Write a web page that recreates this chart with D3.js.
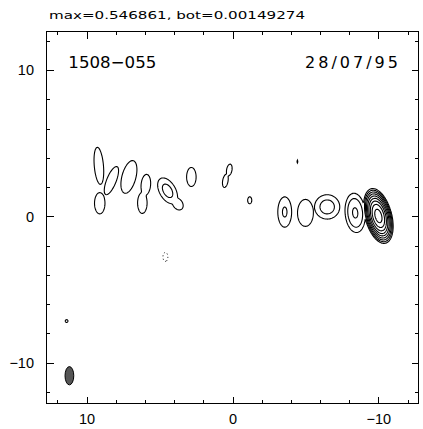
<!DOCTYPE html>
<html>
<head>
<meta charset="utf-8">
<script src="https://cdn.jsdelivr.net/npm/d3@7"></script>
<style>
  body { margin: 0; background: #fff; }
  svg { display: block; font-family: "Liberation Sans", Arial, sans-serif; }
</style>
</head>
<body>
<div id="chart"></div>
<script>
// map header values
const mapMax = 0.546861;
const mapBot = 0.00149274;
const sourceName = "1508\u2212055";
const obsDate = "28/07/95";

// contour levels: bot * 2^k
const levelFactors = [1, 2, 4, 8, 16, 32, 64, 128, 256];
const negFactors = [1];

// axis ticks (relative position, mas)
const majorTicks = [-10, 0, 10];
const minorTicks = [-12, -10, -8, -6, -4, -2, 0, 2, 4, 6, 8, 10, 12];

// brightness components (x, y in mas; peak in Jy)
const compX    = [9.16, 9.10, 8.30, 7.10, 5.94, 6.18, 4.45, 3.75, 2.82, 0.22, 0.49, -4.45, -1.18, -3.58, -5.00, -6.49, -8.41, -10.0, 11.37];
const compY    = [3.46, 0.90, 2.45, 2.70, 2.16, 0.92, 1.75, 0.85, 2.70, 3.18, 2.43, 3.75, 1.10, 0.30, 0.24, 0.65, 0.24, 0.03, -7.16];
const compPeak = [0.00269, 0.00269, 0.00269, 0.00269, 0.00269, 0.00269, 0.00388, 0.00269, 0.00269, 0.00269, 0.00269, 0.00164, 0.00269, 0.00325, 0.00269, 0.00419, 0.00661, 0.546861, 0.00164];
const compMaj  = [1.17, 0.67, 0.95, 1.06, 0.66, 0.66, 0.70, 0.41, 0.60, 0.37, 0.42, 0.23, 0.22, 0.83, 0.85, 0.58, 0.78, 0.56, 0.23];
const compMin  = [0.29, 0.33, 0.30, 0.44, 0.30, 0.30, 0.40, 0.30, 0.30, 0.17, 0.17, 0.08, 0.13, 0.38, 0.50, 0.60, 0.40, 0.265, 0.22];
const compPA   = [5, 0, -22, -15, -5, 0, 30, 35, 0, -10, -10, 0, 0, 0, 0, 0, 5, 15, 0];

// negative feature (dotted contour)
const negX = [4.60], negY = [-2.77], negPeak = [-0.00179], negMaj = [0.51], negMin = [0.28];

// restoring beam (FWHM, mas) and its position
const beamPos = [11.18, -10.9];
const beamSize = [0.6, 1.25];

const width = 423, height = 429;
const frame = { left: 46.5, right: 418.5, top: 31.5, bottom: 403.5 };

const x = d3.scaleLinear().domain([12.75, -12.75]).range([frame.left, frame.right]);
const y = d3.scaleLinear().domain([-12.8, 12.65]).range([frame.bottom, frame.top]);

const svg = d3.select('#chart').append('svg')
  .attr('width', width)
  .attr('height', height);

svg.append('defs').append('clipPath').attr('id', 'box')
  .append('rect')
  .attr('x', frame.left).attr('y', frame.top)
  .attr('width', frame.right - frame.left)
  .attr('height', frame.bottom - frame.top);

// sample the component model on a grid
const step = 0.05;
const x0 = 12.75, y0 = 12.65;
const nx = Math.round(25.5 / step) + 1;
const ny = Math.round(25.45 / step) + 1;
const values = new Float64Array(nx * ny);
const negValues = new Float64Array(nx * ny);

const comps = compX.map((cx, i) => {
  const pa = compPA[i] * Math.PI / 180;
  return { cx, cy: compY[i], p: compPeak[i], a: compMaj[i], b: compMin[i], s: Math.sin(pa), c: Math.cos(pa) };
});
const negComps = negX.map((cx, i) => ({ cx, cy: negY[i], p: -negPeak[i], a: negMaj[i], b: negMin[i], s: 0, c: 1 }));

function gauss(k, gx, gy) {
  const dx = gx - k.cx, dy = gy - k.cy;
  const u = dx * k.s + dy * k.c;
  const w = dx * k.c - dy * k.s;
  const e = 0.5 * (u * u / (k.a * k.a) + w * w / (k.b * k.b));
  return e < 40 ? k.p * Math.exp(-e) : 0;
}

// soft union of components (keeps separate knots from bleeding together)
const pw = 8;
for (let j = 0; j < ny; j++) {
  const gy = y0 - j * step;
  for (let i = 0; i < nx; i++) {
    const gx = x0 - i * step;
    let acc = 0;
    for (const k of comps) acc += Math.pow(gauss(k, gx, gy) / mapBot, pw);
    values[i + j * nx] = Math.pow(acc, 1 / pw) * mapBot;
    let n = 0;
    for (const k of negComps) n += gauss(k, gx, gy);
    negValues[i + j * nx] = n;
  }
}

// grid coords -> data -> pixels
const toPx = d3.geoTransform({
  point: function(gi, gj) {
    this.stream.point(x(x0 - (gi - 0.5) * step), y(y0 - (gj - 0.5) * step));
  }
});
const path = d3.geoPath(toPx);

const plot = svg.append('g').attr('clip-path', 'url(#box)');

const pos = d3.contours().size([nx, ny])
  .thresholds(levelFactors.map(f => f * mapBot))(values);

plot.selectAll('path.pos')
  .data(pos)
  .enter().append('path')
  .attr('class', 'pos')
  .attr('d', path)
  .attr('fill', 'none')
  .attr('stroke', '#000')
  .attr('stroke-width', 1.1);

const neg = d3.contours().size([nx, ny])
  .thresholds(negFactors.map(f => f * mapBot))(negValues);

plot.selectAll('path.neg')
  .data(neg)
  .enter().append('path')
  .attr('class', 'neg')
  .attr('d', path)
  .attr('fill', 'none')
  .attr('stroke', '#000')
  .attr('stroke-width', 1)
  .attr('stroke-dasharray', '1,2.5');

// beam
plot.append('ellipse')
  .attr('cx', x(beamPos[0]))
  .attr('cy', y(beamPos[1]))
  .attr('rx', Math.abs(x(beamSize[0] / 2) - x(0)))
  .attr('ry', Math.abs(y(beamSize[1] / 2) - y(0)))
  .attr('fill', '#555')
  .attr('stroke', '#000')
  .attr('stroke-width', 1);

// frame
svg.append('rect')
  .attr('x', frame.left).attr('y', frame.top)
  .attr('width', frame.right - frame.left)
  .attr('height', frame.bottom - frame.top)
  .attr('fill', 'none')
  .attr('stroke', '#000')
  .attr('stroke-width', 1);

// ticks on all four sides, pointing inward
function addAxis(axis, tx, ty, ticks, len, labels) {
  const g = svg.append('g')
    .attr('transform', `translate(${tx},${ty})`)
    .call(axis.tickValues(ticks).tickSize(-len)
      .tickPadding(labels ? 10 : 0)
      .tickFormat(labels ? d => d3.format('d')(d) : ''));
  g.select('.domain').remove();
  g.selectAll('line').attr('stroke', '#000').attr('shape-rendering', 'crispEdges');
  g.selectAll('text').attr('font-family', '"Liberation Sans", Arial, sans-serif')
    .attr('font-size', 14.5).attr('fill', '#000');
  return g;
}
addAxis(d3.axisBottom(x), 0, frame.bottom, minorTicks, 3.5, false);
addAxis(d3.axisTop(x), 0, frame.top, minorTicks, 3.5, false);
addAxis(d3.axisLeft(y), frame.left, 0, minorTicks, 3.5, false);
addAxis(d3.axisRight(y), frame.right, 0, minorTicks, 3.5, false);
addAxis(d3.axisBottom(x), 0, frame.bottom, majorTicks, 7, true);
addAxis(d3.axisTop(x), 0, frame.top, majorTicks, 7, false);
addAxis(d3.axisLeft(y), frame.left, 0, majorTicks, 7, true).selectAll('text').attr('x', -12.5);
addAxis(d3.axisRight(y), frame.right, 0, majorTicks, 7, false);

// header and labels
svg.append('text')
  .attr('x', 49).attr('y', 18.5)
  .attr('font-family', '"DejaVu Sans", sans-serif')
  .attr('font-size', 11.3)
  .attr('textLength', 256).attr('lengthAdjust', 'spacingAndGlyphs')
  .text(`max=${mapMax}, bot=${mapBot}`);

svg.append('text')
  .attr('x', 68.3).attr('y', 68.3)
  .attr('font-family', '"DejaVu Sans", sans-serif')
  .attr('font-size', 16)
  .attr('textLength', 88).attr('lengthAdjust', 'spacingAndGlyphs')
  .text(sourceName);

svg.append('text')
  .attr('x', 305).attr('y', 68.3)
  .attr('font-family', '"DejaVu Sans", sans-serif')
  .attr('font-size', 16)
  .attr('textLength', 93).attr('lengthAdjust', 'spacing')
  .text(obsDate);
</script>
</body>
</html>
